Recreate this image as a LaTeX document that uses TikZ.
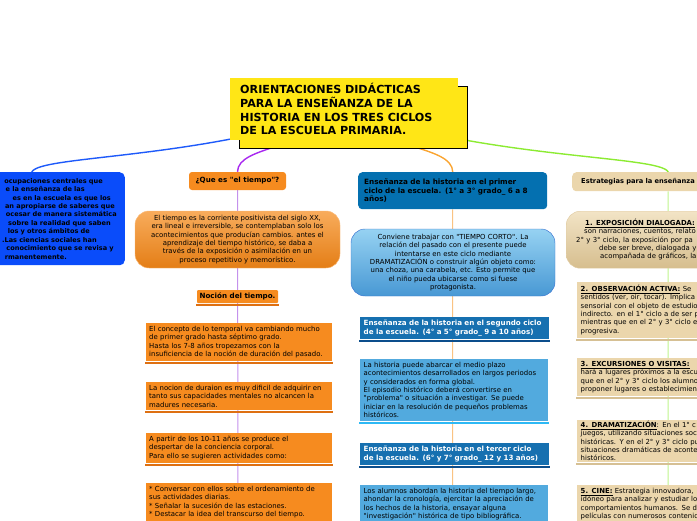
\documentclass[tikz,border=0pt]{standalone}
\usepackage{fontspec}
\setmainfont{DejaVu Sans}[Ligatures=TeXOff]
\usetikzlibrary{positioning,backgrounds,shadows}
\newlength\pxu \setlength\pxu{0.03cm}
\newcommand\padr[1]{\rule{#1\pxu}{0pt}}
\newcommand\padl[1]{\rule{#1\pxu}{0pt}}
\newcommand\hdfont{\fontsize{6.1}{7.1}\selectfont\bfseries}
\definecolor{ylw}{RGB}{255,230,22}
\definecolor{lblue}{RGB}{10,76,250}
\definecolor{org}{RGB}{246,139,31}
\definecolor{orgdk}{RGB}{222,112,18}
\definecolor{orgtop}{RGB}{248,172,92}
\definecolor{orgbot}{RGB}{228,126,22}
\definecolor{orgln}{RGB}{250,185,120}
\definecolor{hdteal}{RGB}{4,112,176}
\definecolor{hdblue}{RGB}{22,112,176}
\definecolor{hdbar}{RGB}{12,78,140}
\definecolor{skyfill}{RGB}{82,170,222}
\definecolor{skybar}{RGB}{45,185,245}
\definecolor{skytop}{RGB}{150,210,242}
\definecolor{skybot}{RGB}{72,152,212}
\definecolor{skyline}{RGB}{60,118,210}
\definecolor{bge}{RGB}{235,214,172}
\definecolor{bgebar}{RGB}{214,192,148}
\definecolor{bgetop}{RGB}{242,228,198}
\definecolor{bgebot}{RGB}{214,190,142}
\definecolor{bgeln}{RGB}{225,205,165}
\definecolor{lnblue}{RGB}{30,90,250}
\definecolor{lnpurple}{RGB}{168,40,240}
\definecolor{lnpurplelt}{RGB}{196,145,236}
\definecolor{lnorg}{RGB}{250,165,50}
\definecolor{lnorglt}{RGB}{250,195,130}
\definecolor{lngreen}{RGB}{140,235,50}
\definecolor{lngreenlt}{RGB}{190,245,140}
\tikzset{
  every node/.style={font=\fontsize{5.9}{7.1}\selectfont,inner sep=0pt},
  ttl/.style={fill=ylw,anchor=north west,align=left,text width=208\pxu,inner xsep=10\pxu,
    minimum height=62\pxu,font=\fontsize{9.5}{11.6}\selectfont\bfseries,
    copy shadow={shadow xshift=8.5\pxu,shadow yshift=-8\pxu}},
  lbox/.style={fill=lblue,rounded corners=5\pxu,anchor=north east,align=right,text width=170\pxu,
    inner xsep=8\pxu,inner ysep=6\pxu,font=\fontsize{5.6}{7.2}\selectfont\bfseries},
  otag/.style={fill=org,rounded corners=3\pxu,font=\hdfont},
  obig/.style={top color=orgtop,bottom color=orgbot,draw=orgln,rounded corners=14\pxu,align=center,
    minimum width=205\pxu,minimum height=57\pxu},
  obox/.style={fill=org,anchor=north west,align=left,text width=180\pxu,inner xsep=3\pxu,inner ysep=3\pxu},
  mtop/.style={fill=hdteal,rounded corners=4\pxu,anchor=north west,align=left,text width=177\pxu,
    inner xsep=6\pxu,minimum height=37\pxu,font=\fontsize{6.2}{7.1}\selectfont\bfseries},
  mbig/.style={top color=skytop,bottom color=skybot,draw=skyline,rounded corners=14\pxu,align=center,
    minimum width=204\pxu,minimum height=67\pxu},
  mhead/.style={fill=hdblue,text=white,anchor=north west,align=left,text width=182\pxu,inner xsep=3.5\pxu,
    inner ysep=3\pxu,font=\hdfont},
  mbox/.style={fill=skyfill,anchor=north west,align=left,text width=181\pxu,inner xsep=3.5\pxu,inner ysep=3\pxu},
  rtop/.style={fill=bge,rounded corners=4\pxu,anchor=north west,align=left,text width=174\pxu,
    inner xsep=9\pxu,minimum height=19\pxu,font=\fontsize{5.7}{7.1}\selectfont\bfseries},
  rbig/.style={top color=bgetop,bottom color=bgebot,draw=bgeln,rounded corners=14\pxu,anchor=north west,
    align=left,text width=190\pxu,inner xsep=7\pxu,minimum height=57\pxu},
  rbox/.style={fill=bge,anchor=north west,align=left,text width=193\pxu,inner xsep=3.5\pxu,inner ysep=3\pxu},
  link/.style={line width=1.4\pxu},
  stem/.style={line width=1\pxu},
}
\begin{document}
\begin{tikzpicture}[x=\pxu,y=-\pxu]
\useasboundingbox (0,0) rectangle (697,520);
\clip (0,0) rectangle (697,520);

% title
\node[ttl] (ti) at (230,78) {ORIENTACIONES DIDÁCTICAS\\PARA LA ENSEÑANZA DE LA\\HISTORIA EN LOS TRES CICLOS\\DE LA ESCUELA PRIMARIA.};

% left branch
\node[lbox] (lb) at (125,172) {ocupaciones centrales que\padr{14}\\
  e la enseñanza de las\padr{32}\\
  es en la escuela es que los\padr{6}\\
  an apropiarse de saberes que\padr{2}\\
  ocesar de manera sistemática\\
  sobre la realidad que saben\padr{6}\\
  los y otros ámbitos de\padr{27}\\
  .Las ciencias sociales han\padr{20}\\
  conocimiento que se revisa y\padr{3}\\
  rmanentemente.\padr{50}};

% time branch
\node[otag,minimum width=97\pxu,minimum height=18\pxu] (que) at (237.5,181) {¿Que es "el tiempo"?};
\node[obig] (tiempo) at (237.5,239.5) {El tiempo es la corriente positivista del siglo XX,\\
  era lineal e irreversible, se contemplaban solo los\\
  acontecimientos que producían cambios. antes el\\
  aprendizaje del tiempo histórico, se daba a\\
  través de la exposición o asimilación en un\\
  proceso repetitivo y memorístico.};
\node[otag,minimum width=81\pxu,minimum height=13\pxu,rounded corners=1\pxu] (nocion) at (237.5,296.5) {Noción del tiempo.};
\node[obox] (o1) at (146,323) {El concepto de lo temporal va cambiando mucho\\de primer grado hasta séptimo grado.\\
  Hasta los 7-8 años tropezamos con la\\insuficiencia de la noción de duración del pasado.};
\node[obox] (o2) at (146,382) {La nocion de duraion es muy dificil de adquirir en\\tanto sus capacidades mentales no alcancen la\\madures necesaria.};
\node[obox] (o3) at (146,433) {A partir de los 10-11 años se produce el\\despertar de la conciencia corporal.\\Para ello se sugieren actividades como:};
\node[obox] (o4) at (146,483) {* Conversar con ellos sobre el ordenamiento de\\sus actividades diarias.\\
  {*} Señalar la sucesión de las estaciones.\\{*} Destacar la idea del transcurso del tiempo.};

% cycles branch
\node[mtop] (m0) at (358,172) {Enseñanza de la historia en el primer\\ciclo de la escuela. (1° a 3° grado\_ 6 a 8\\años)};
\node[mbig] (m1) at (453,262.5) {Conviene trabajar con "TIEMPO CORTO". La\\relación del pasado con el presente puede\\
  intentarse en este ciclo mediante\\DRAMATIZACIÓN o construir algún objeto como:\\
  una choza, una carabela, etc. Esto permite que\\el niño pueda ubicarse como si fuese\\protagonista.};
\node[mhead] (m2) at (360,317) {Enseñanza de la historia en el segundo ciclo\\de la escuela. (4° a 5° grado\_ 9 a 10 años)};
\node[mbox] (m3) at (360,359) {La historia puede abarcar el medio plazo\\acontecimientos desarrollados en largos periodos\\
  y considerados en forma global.\\El episodio histórico deberá convertirse en\\
  "problema" o situación a investigar. Se puede\\iniciar en la resolución de pequeños problemas\\históricos.};
\node[mhead] (m4) at (360,443) {Enseñanza de la historia en el tercer ciclo\\de la escuela. (6° y 7° grado\_ 12 y 13 años)};
\node[mbox] (m5) at (360,485) {Los alumnos abordan la historia del tiempo largo,\\ahondar la cronología, ejercitar la apreciación de\\
  los hechos de la historia, ensayar alguna\\"investigación" histórica de tipo bibliográfica.};

% strategies branch
\node[rtop] (r0) at (572,172) {Estrategias para la enseñanza};
\node[rbig] (r1) at (566,211) {\padl{12}\underline{\textbf{1. EXPOSICIÓN DIALOGADA:}}\\
  \padl{11}son narraciones, cuentos, relato\\
  \padl{3}2° y 3° ciclo, la exposición por pa\\
  \padl{26}debe ser breve, dialogada y\\
  \padl{27}acompañada de gráficos, la};
\node[rbox] (r2) at (577,282) {\underline{\textbf{2. OBSERVACIÓN ACTIVA:}} Se\\sentidos (ver, oír, tocar). Implica\\
  sensorial con el objeto de estudio\\indirecto. en el 1° ciclo a de ser p\\mientras que en el 2° y 3° ciclo e\\progresiva.};
\node[rbox] (r3) at (577,358) {\underline{\textbf{3. EXCURSIONES O VISITAS:}}\\hará a lugares próximos a la escu\\
  que en el 2° y 3° ciclo los alumno\\proponer lugares o establecimien};
\node[rbox,inner ysep=1\pxu] (r4) at (577,420) {\underline{\textbf{4. DRAMATIZACIÓN}}: En el 1° c\\juegos, utilizando situaciones soc\\
  históricas. Y en el 2° y 3° ciclo pu\\situaciones dramáticas de aconte\\históricos.};
\node[rbox] (r5) at (577,485) {\underline{\textbf{5. CINE:}} Estrategia innovadora,\\idóneo para analizar y estudiar lo\\
  comportamientos humanos. Se d\\películas con numerosos contenid};

% bars under boxes
\foreach \n in {nocion,o1,o2,o3}
  \fill[orgdk] ([xshift=-1\pxu,yshift=-1\pxu]\n.south west) rectangle ([xshift=1\pxu,yshift=-3\pxu]\n.south east);
\foreach \n in {m2,m4}
  \fill[hdbar] ([xshift=-1\pxu,yshift=-1\pxu]\n.south west) rectangle ([xshift=1\pxu,yshift=-3\pxu]\n.south east);
\fill[skybar] ([xshift=-1\pxu,yshift=-1\pxu]m3.south west) rectangle ([xshift=1\pxu,yshift=-3\pxu]m3.south east);
\foreach \n in {r2,r3,r4}
  \fill[bgebar] ([xshift=-1\pxu,yshift=-1\pxu]\n.south west) rectangle ([xshift=1\pxu,yshift=-3\pxu]\n.south east);

\coordinate (pe) at (238,520);
\coordinate (me) at (452.5,520);
\coordinate (re) at (668,520);

\begin{scope}[on background layer]
  \draw[link,lnblue] (ti.center) .. controls (200,160) and (40,155) .. (lb.north);
  \draw[link,lnpurple] (ti.center) .. controls (310,150) and (238,145) .. (que.north);
  \draw[link,lnorg] (ti.center) .. controls (378,150) and (452.5,145) .. (m0.north);
  \draw[link,lngreen] (ti.center) .. controls (488,160) and (660,155) .. (r0.north);
  \draw[stem,lnpurplelt] (que.south) -- (pe);
  \draw[stem,lnorglt] (m0.south) -- (me);
  \draw[stem,lngreenlt] (r0.south) -- (re);
\end{scope}
\end{tikzpicture}
\end{document}
